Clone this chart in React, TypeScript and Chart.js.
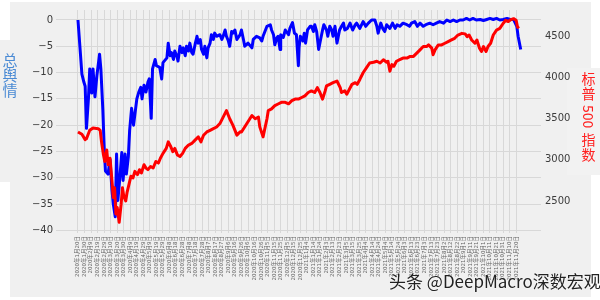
import React, { useEffect, useRef } from "react";
import { Chart, registerables } from "chart.js";

Chart.register(...registerables);

// Tick labels every 10 days, starting 2020-01-20
const tickStepDays = 10;
const tickLabels = [
  "2020年1月20日", "2020年1月30日", "2020年2月9日", "2020年2月19日", "2020年2月29日",
  "2020年3月10日", "2020年3月20日", "2020年3月30日", "2020年4月9日", "2020年4月19日",
  "2020年4月29日", "2020年5月9日", "2020年5月19日", "2020年5月29日", "2020年6月8日",
  "2020年6月18日", "2020年6月28日", "2020年7月8日", "2020年7月18日", "2020年7月28日",
  "2020年8月7日", "2020年8月17日", "2020年8月27日", "2020年9月6日", "2020年9月16日",
  "2020年9月26日", "2020年10月6日", "2020年10月16日", "2020年10月26日", "2020年11月5日",
  "2020年11月15日", "2020年11月25日", "2020年12月5日", "2020年12月15日", "2020年12月25日",
  "2021年1月4日", "2021年1月14日", "2021年1月24日", "2021年2月3日", "2021年2月13日",
  "2021年2月23日", "2021年3月5日", "2021年3月15日", "2021年3月25日", "2021年4月4日",
  "2021年4月14日", "2021年4月24日", "2021年5月4日", "2021年5月14日", "2021年5月24日",
  "2021年6月3日", "2021年6月13日", "2021年6月23日", "2021年7月3日", "2021年7月13日",
  "2021年7月23日", "2021年8月2日", "2021年8月12日", "2021年8月22日", "2021年9月1日",
  "2021年9月11日", "2021年9月21日", "2021年10月1日", "2021年10月11日", "2021年10月21日",
  "2021年10月31日", "2021年11月10日", "2021年11月20日",
];

const leftTicks = [0, -5, -10, -15, -20, -25, -30, -35, -40];
const rightTicks = [2500, 3000, 3500, 4000, 4500];

const leftTitle = ["总", "舆", "情"];
const rightTitle = ["标", "普", "500", "指", "数"];
const watermark = "头条 @DeepMacro深数宏观";

// [day since 2020-01-20, total sentiment]
const sentiment: [number, number][] = [
  [0, 0], [6, -10.3], [9, -11.8], [11, -12.6], [13, -20.6], [16, -14.9], [18, -9.3], [21, -13.9], [23, -9.3], [26, -14.6],
  [29, -10.5], [33, -6.5], [35, -9.3], [38, -17], [40, -24], [42, -28.7], [46, -29.3], [49, -26.5], [52, -32.4], [54, -35],
  [57, -37.4], [59, -25.5], [61, -34.3], [64, -30], [67, -25.2], [69, -30.5], [72, -25.5], [74, -29.3], [77, -26], [79, -21],
  [82, -16.8], [85, -20], [90, -15], [93, -13.7], [96, -12.8], [98, -15], [101, -12.4], [104, -13.7], [107, -11.8], [109, -11.2],
  [112, -18.7], [114, -9.3], [118, -7.5], [120, -8.7], [125, -9], [128, -11.2], [130, -8.1], [136, -7.2], [138, -4.4], [141, -6.8],
  [143, -6.2], [146, -7.5], [148, -5.9], [151, -6.8], [153, -7.8], [156, -5], [159, -6.2], [161, -5.3], [164, -6.8], [166, -5],
  [169, -5.9], [171, -4.4], [174, -6.2], [176, -6.5], [179, -4.7], [182, -3.1], [184, -4.4], [187, -3.7], [189, -5.6], [192, -6.5],
  [194, -5], [197, -7.2], [199, -5.3], [202, -4.4], [204, -2.8], [207, -3.7], [209, -2.5], [212, -3.1], [217, -2.8], [220, -3.7],
  [222, -3.1], [225, -1.9], [227, -3.1], [230, -4], [232, -5], [235, -2.2], [237, -2.5], [240, -1.9], [243, -3.7], [248, -2.8],
  [250, -1.9], [253, -3.7], [255, -5], [260, -4.4], [266, -5.3], [268, -3.7], [273, -3.1], [278, -3.4], [281, -4], [283, -3.1],
  [289, -1.2], [294, -0.9], [296, -1.9], [299, -2.8], [301, -4.7], [304, -3.4], [306, -3.1], [309, -5.6], [310, -2.8], [314, -3.3],
  [317, -1.9], [322, -2.8], [324, -1.6], [328, -0.5], [331, -2.5], [334, -2.8], [337, -8.7], [338, -5.3], [340, -3.1], [344, -4],
  [346, -2.5], [348, -4.4], [351, -1.9], [355, -1.2], [357, -1.2], [360, -2.2], [362, -0.9], [365, -2.2], [368, -5.6], [371, -3.7],
  [374, -1.9], [376, -0.9], [380, -1.9], [382, -3.1], [385, -1.2], [388, -1.9], [390, -3.1], [393, -1.2], [396, -4.4], [400, -1.9],
  [403, -1.2], [406, -0.6], [408, -1.9], [412, -1.6], [416, -0.6], [420, -1.9], [424, -0.9], [426, -0.6], [431, -1.6], [436, -0.3],
  [440, -1.2], [444, -0.6], [449, 0], [454, 0], [457, -1.2], [459, -2.5], [463, -0.6], [466, -1.6], [469, -2.2], [472, -0.9],
  [477, -1.6], [481, -0.6], [485, -1.6], [488, -0.9], [492, -1.2], [497, -0.6], [503, -0.9], [507, -1.2], [510, -0.6], [515, -0.3],
  [519, -1.2], [523, -0.6], [528, -1.2], [532, -0.9], [538, -0.6], [543, -0.9], [548, -0.6], [553, -0.3], [559, -0.6], [564, 0],
  [569, -0.3], [574, 0], [579, -0.3], [584, 0], [589, 0], [594, 0.3], [599, 0], [604, 0.3], [609, 0], [615, 0.1],
  [620, -0.1], [625, 0.1], [630, 0.3], [635, 0.1], [640, 0.3], [645, 0], [650, 0.1], [656, 0.3], [661, 0.1], [666, 0.1],
  [671, -1.2], [673, -3.1], [677, -5.6],
];

// [day since 2020-01-20, S&P 500 index]
const spx: [number, number][] = [
  [0, 3338], [6, 3310], [11, 3245], [13, 3255], [18, 3358], [23, 3386], [31, 3378], [34, 3358], [36, 3218], [39, 3059],
  [41, 2979], [44, 3119], [46, 2940], [49, 3019], [52, 2740], [54, 2540], [56, 2659], [58, 2341], [60, 2420], [63, 2240],
  [66, 2460], [68, 2659], [70, 2560], [73, 2500], [75, 2600], [78, 2700], [81, 2800], [84, 2779], [87, 2859], [91, 2819],
  [94, 2879], [97, 2839], [101, 2940], [104, 2899], [107, 2880], [111, 2919], [115, 2900], [119, 2979], [123, 2960], [126, 3019],
  [130, 3078], [135, 3138], [138, 3218], [142, 3159], [145, 3099], [148, 3138], [152, 3059], [156, 3039], [160, 3078], [164, 3138],
  [169, 3179], [174, 3198], [179, 3239], [184, 3278], [188, 3218], [192, 3298], [197, 3338], [202, 3358], [207, 3378], [212, 3398],
  [217, 3440], [222, 3518], [227, 3598], [232, 3498], [237, 3418], [243, 3300], [248, 3340], [250, 3338], [258, 3438], [266, 3538],
  [271, 3498], [276, 3518], [278, 3400], [283, 3278], [289, 3498], [291, 3598], [296, 3618], [301, 3658], [306, 3678], [311, 3698],
  [317, 3698], [322, 3680], [327, 3718], [332, 3737], [337, 3737], [342, 3757], [347, 3777], [352, 3817], [357, 3837], [362, 3817],
  [366, 3877], [370, 3817], [374, 3737], [378, 3837], [380, 3897], [385, 3917], [390, 3937], [396, 3957], [401, 3877], [403, 3817],
  [408, 3837], [411, 3797], [415, 3857], [419, 3917], [424, 3937], [427, 3917], [431, 3976], [436, 4057], [441, 4117], [446, 4176],
  [452, 4185], [457, 4197], [462, 4176], [467, 4216], [472, 4185], [474, 4197], [477, 4077], [480, 4156], [483, 4137], [487, 4197],
  [492, 4216], [497, 4236], [503, 4236], [508, 4256], [513, 4256], [518, 4296], [523, 4336], [528, 4376], [533, 4376], [536, 4396],
  [541, 4356], [543, 4276], [546, 4336], [551, 4396], [556, 4396], [561, 4416], [566, 4436], [571, 4456], [576, 4476], [581, 4516],
  [587, 4536], [592, 4530], [595, 4496], [598, 4516], [602, 4456], [607, 4416], [610, 4456], [614, 4356], [617, 4316], [620, 4376],
  [624, 4316], [627, 4376], [631, 4416], [635, 4516], [640, 4576], [645, 4596], [650, 4656], [654, 4695], [658, 4680], [662, 4704],
  [666, 4715], [670, 4695], [672, 4616], [674, 4596],
];

const BG = "#f0f0f0";
const GRID = "#d8d8d8";
const CJK = "'Noto Sans CJK SC', sans-serif";

const bgPlugin = {
  id: "figBg",
  beforeDraw(chart: any) {
    const ctx = chart.ctx;
    ctx.save();
    ctx.fillStyle = BG;
    ctx.fillRect(10, 2, 581, 295);
    ctx.fillRect(0, 40, 32, 142);
    ctx.fillStyle = "#f2f2f2";
    ctx.fillRect(567, 68, 33, 107);
    ctx.restore();
  },
  afterDraw(chart: any) {
    const ctx = chart.ctx;
    ctx.save();
    ctx.textAlign = "center";
    ctx.textBaseline = "middle";
    // left title: stacked characters
    ctx.fillStyle = "#4a8ad4";
    ctx.font = `15px ${CJK}`;
    leftTitle.forEach((c, i) => ctx.fillText(c, 10, 60 + i * 15));
    // right title: stacked characters, digits turned sideways
    ctx.fillStyle = "#ff2020";
    ctx.font = `14px ${CJK}`;
    let y = 72;
    rightTitle.forEach((c) => {
      if (/^\d+$/.test(c)) {
        const w = ctx.measureText(c).width;
        y += 3;
        ctx.save();
        ctx.translate(588.5, y + w / 2);
        ctx.rotate(Math.PI / 2);
        ctx.fillText(c, 0, 0);
        ctx.restore();
        y += w + 4;
      } else {
        ctx.fillText(c, 588.5, y + 7);
        y += 15;
      }
    });
    ctx.restore();
  },
};

const fmt = (v: number) => (v < 0 ? "\u2212" + Math.abs(v) : String(v));

export default function App() {
  const ref = useRef<HTMLCanvasElement | null>(null);

  useEffect(() => {
    if (!ref.current) return;
    const chart = new Chart(ref.current, {
      type: "line",
      data: {
        datasets: [
          {
            label: "标普500指数",
            data: spx.map(([d, v]) => ({ x: d, y: v })),
            yAxisID: "y1",
            borderColor: "#ff0000",
            borderWidth: 3,
            pointRadius: 0,
            tension: 0,
            borderJoinStyle: "round",
            order: 0,
          },
          {
            label: "总舆情",
            data: sentiment.map(([d, v]) => ({ x: d, y: v })),
            yAxisID: "y",
            borderColor: "#0000ff",
            borderWidth: 3,
            pointRadius: 0,
            tension: 0,
            borderJoinStyle: "round",
            order: 1,
          },
        ],
      },
      options: {
        animation: false,
        responsive: false,
        devicePixelRatio: 1,
        layout: { padding: { top: 6, left: 0, right: 0, bottom: 0 } },
        plugins: { legend: { display: false }, tooltip: { enabled: false } },
        scales: {
          x: {
            type: "linear",
            min: -33.6,
            max: 708,
            border: { display: false },
            grid: { color: GRID, lineWidth: 1, drawTicks: false },
            ticks: {
              autoSkip: false,
              minRotation: 90,
              maxRotation: 90,
              padding: 3,
              color: "#666666",
              font: { size: 5.5, family: "'DejaVu Sans', 'Noto Sans CJK SC', sans-serif" },
              callback: (_v: any, i: number) => tickLabels[i],
            },
            afterBuildTicks: (scale: any) => {
              scale.ticks = tickLabels.map((_, i) => ({ value: i * tickStepDays }));
            },
            afterFit: (scale: any) => {
              scale.height = 67;
            },
          },
          y: {
            position: "left",
            min: -40.5,
            max: 1.9,
            border: { display: false },
            grid: { color: GRID, lineWidth: 1, drawTicks: false },
            ticks: {
              padding: 3,
              color: "#3c3c3c",
              font: { size: 10, family: "'DejaVu Sans', sans-serif" },
              callback: (v: any) => fmt(Number(v)),
            },
            afterBuildTicks: (scale: any) => {
              scale.ticks = leftTicks.map((v) => ({ value: v }));
            },
            afterFit: (scale: any) => {
              scale.width = 56;
            },
          },
          y1: {
            position: "right",
            min: 2110,
            max: 4820,
            border: { display: false },
            grid: { display: false, drawTicks: false },
            ticks: {
              padding: 4,
              color: "#3c3c3c",
              font: { size: 10, family: "'DejaVu Sans', sans-serif" },
              callback: (v: any) => fmt(Number(v)),
            },
            afterBuildTicks: (scale: any) => {
              scale.ticks = rightTicks.map((v) => ({ value: v }));
            },
            afterFit: (scale: any) => {
              scale.width = 59;
            },
          },
        },
      },
      plugins: [bgPlugin],
    } as any);
    return () => chart.destroy();
  }, []);

  return (
    <div
      style={{
        position: "fixed",
        left: 0,
        top: 0,
        width: 600,
        height: 300,
        background: "#ffffff",
        overflow: "hidden",
      }}
    >
      <canvas ref={ref} width={600} height={300} style={{ position: "absolute", left: 0, top: 0 }} />
      <div
        style={{
          position: "absolute",
          left: 389,
          top: 271,
          fontFamily: CJK,
          fontSize: 17,
          lineHeight: "20px",
          color: "#222222",
          whiteSpace: "nowrap",
          textShadow: "0 0 2px #ffffff",
        }}
      >
        {watermark}
      </div>
    </div>
  );
}
